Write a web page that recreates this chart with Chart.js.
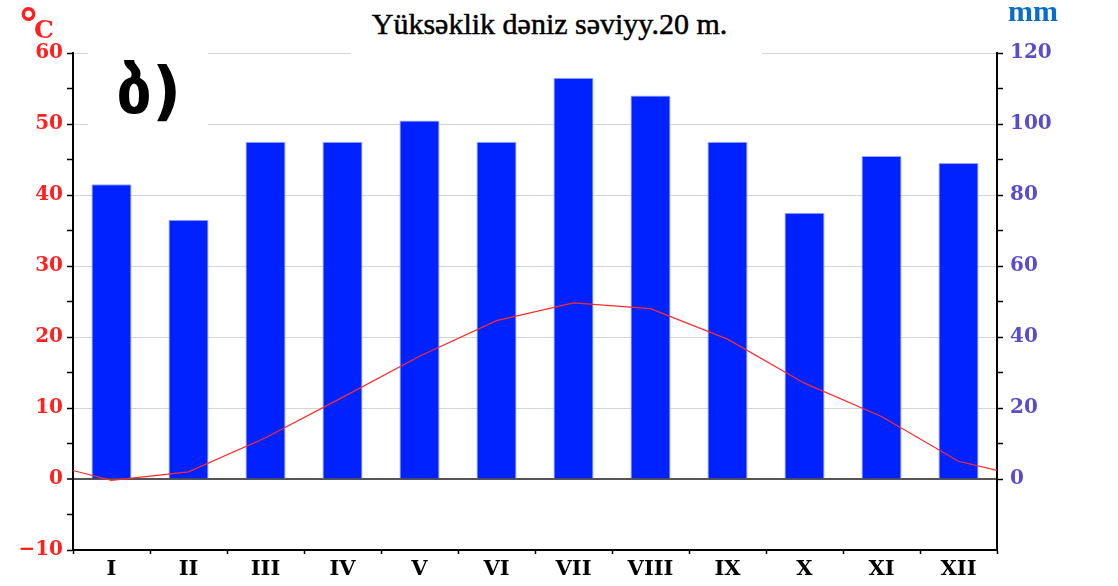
<!DOCTYPE html>
<html>
<head>
<meta charset="utf-8">
<script src="https://cdn.jsdelivr.net/npm/chart.js@4"></script>
<style>
  body { margin: 0; background: #fff; }
  #wrap { position: relative; width: 1118px; height: 586px; }
  #title {
    position: absolute; left: 351px; top: 0; width: 411px; height: 58px;
    background: #fff; text-align: center; box-sizing: border-box; padding-top: 9px; padding-right: 14px;
    font: 30px "Liberation Serif", serif; line-height: 29px; color: #000;
    -webkit-text-stroke: 0.5px #000;
  }
  #letter {
    position: absolute; left: 88px; top: 38px; width: 120px; height: 92px;
    background: #fff; box-sizing: border-box; padding-left: 28px; overflow: hidden;
    font: bold 64px "DejaVu Sans", serif; line-height: 106px; color: #000;
  }
  #degC { position: absolute; left: 18px; top: 0px; color: #ff2020; font-family: "DejaVu Sans", sans-serif; font-weight: bold; }
  #degC .d { font-size: 42px; }
  #degC .c { font-size: 25px; position: relative; top: -1px; left: -5px; font-family: "DejaVu Serif", serif; }
  #mm {
    position: absolute; left: 1008px; top: -6px; color: #0a6fc4;
    font: bold 30px "Liberation Serif", serif;
  }
</style>
</head>
<body>
<div id="wrap">
  <canvas id="climChart" width="1118" height="586"></canvas>
  <div id="title">Yüksəklik dəniz səviyy.20 m.</div>
  <div id="letter">ბ)</div>
  <div id="degC"><span class="d">°</span><span class="c">C</span></div>
  <div id="mm">mm</div>
</div>
<script>
// aylar
const months = ['I', 'II', 'III', 'IV', 'V', 'VI', 'VII', 'VIII', 'IX', 'X', 'XI', 'XII'];
// yağıntı, mm
const precipitation = [83, 73, 95, 95, 101, 95, 113, 108, 95, 75, 91, 89];
// temperatur, °C
const temperature = [-0.2, 1.0, 5.8, 11.5, 17.3, 22.3, 24.8, 24.0, 19.7, 13.5, 8.8, 2.5];
// value where the curve meets the left and right plot edges
const tempEdge = 1.2;

const barPoints = precipitation.map((v, i) => ({ x: i + 1, y: v }));
const tempPoints = [{ x: 0.5, y: tempEdge }]
    .concat(temperature.map((t, i) => ({ x: i + 1, y: t })))
    .concat([{ x: 12.5, y: tempEdge }]);

const tickFont = { family: 'DejaVu Serif', size: 20, weight: 'bold' };
const tv = c => (c.tick ? c.tick.value : NaN);

const ctx = document.getElementById('climChart').getContext('2d');
new Chart(ctx, {
    type: 'bar',
    data: {
        datasets: [
            {
                type: 'line',
                data: tempPoints,
                yAxisID: 'y',
                borderColor: '#ff2a2a',
                borderWidth: 1.2,
                pointRadius: 0,
                tension: 0,
                order: 0
            },
            {
                data: barPoints,
                yAxisID: 'y2',
                backgroundColor: '#0022ff',
                borderColor: '#9aaaff',
                borderWidth: 1,
                barPercentage: 0.52,
                categoryPercentage: 1,
                order: 1
            }
        ]
    },
    options: {
        responsive: true,
        maintainAspectRatio: false,
        animation: false,
        devicePixelRatio: 1,
        layout: { padding: { top: 53, left: 0, right: 0, bottom: 0 } },
        plugins: { legend: { display: false }, tooltip: { enabled: false } },
        scales: {
            x: {
                type: 'linear',
                position: 'bottom',
                min: 0.5,
                max: 12.5,
                offset: false,
                afterBuildTicks: s => { s.ticks = months.map((m, i) => ({ value: i + 1 })); },
                afterFit: s => { s.height = 36; },
                grid: {
                    offset: true,
                    drawOnChartArea: false,
                    color: '#000',
                    tickLength: 4,
                    tickWidth: 1.5
                },
                border: { display: true, color: '#000', width: 2 },
                ticks: {
                    autoSkip: false,
                    maxRotation: 0,
                    color: '#000',
                    font: { family: 'DejaVu Serif', size: 21, weight: 'bold' },
                    padding: 3,
                    callback: v => months[Math.round(v) - 1] || ''
                }
            },
            y: {
                position: 'left',
                min: -10,
                max: 60,
                afterFit: s => { s.width = 73; },
                ticks: {
                    stepSize: 5,
                    color: '#ff2020',
                    font: tickFont,
                    padding: 4,
                    callback: v => (v % 10 === 0 ? (v < 0 ? '\u2212' + Math.abs(v) : v) : '')
                },
                grid: {
                    color: c => (tv(c) === 0 ? '#555' : (tv(c) % 10 === 0 && tv(c) > -10 ? '#d4d4d4' : 'rgba(0,0,0,0)')),
                    lineWidth: c => (tv(c) === 0 ? 2 : 1),
                    tickColor: '#000',
                    tickWidth: 1.5,
                    tickLength: 6
                },
                border: { display: true, color: '#000', width: 2 }
            },
            y2: {
                position: 'right',
                min: -20,
                max: 120,
                afterFit: s => { s.width = 121; },
                ticks: {
                    stepSize: 10,
                    color: '#5a4ccc',
                    font: tickFont,
                    padding: 7,
                    callback: v => (v >= 0 && v % 20 === 0 ? v : '')
                },
                grid: {
                    drawOnChartArea: false,
                    tickColor: c => (tv(c) < 0 ? 'rgba(0,0,0,0)' : '#000'),
                    tickWidth: 1.5,
                    tickLength: 6
                },
                border: { display: true, color: '#000', width: 2 }
            }
        }
    }
});
</script>
</body>
</html>
